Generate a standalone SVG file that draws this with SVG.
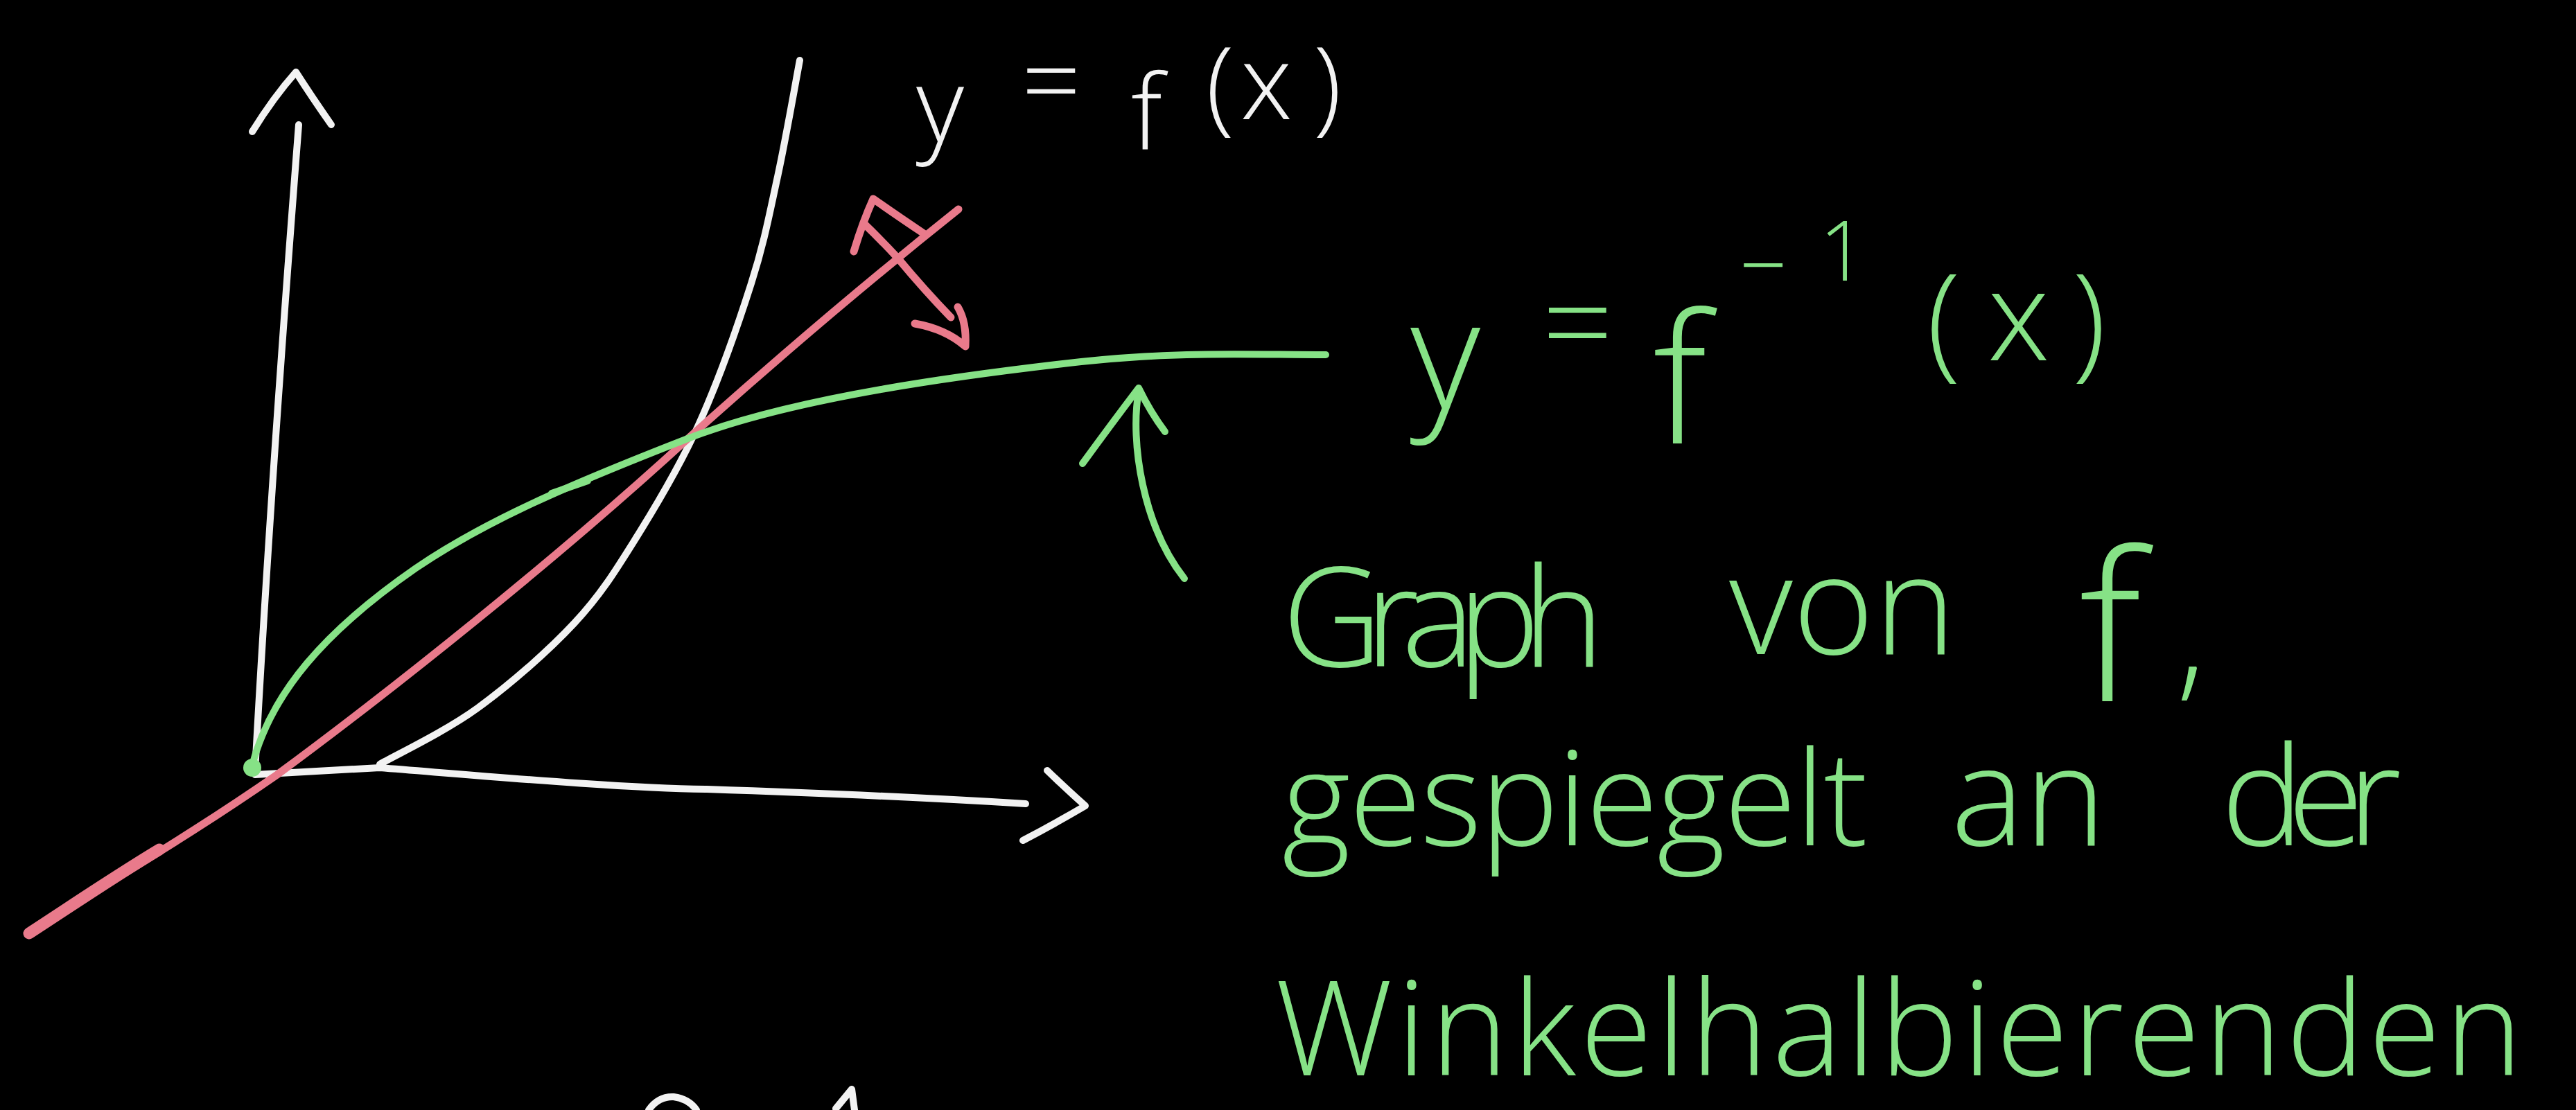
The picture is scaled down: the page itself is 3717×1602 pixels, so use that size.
<svg xmlns="http://www.w3.org/2000/svg" width="3717" height="1602" viewBox="0 0 3717 1602">
<style>
.ink{fill:none;stroke-linecap:round;stroke-linejoin:round}
.w{stroke:#f2f2f2;stroke-width:10}
.r{stroke:#e97a8b;stroke-width:11}
.g{stroke:#86e286;stroke-width:10}
.t{font-family:"Open Sans","Liberation Sans",sans-serif;font-weight:300}
.tw{fill:#f2f2f2}
.tg{fill:#86e286}
</style>
<rect width="3717" height="1602" fill="#000"/>
<g id="connectors">
  <g id="y-axis">
    <path class="ink w" d="M368,1112 C385,800 410,450 431,180"/>
    <path class="ink w" d="M364,190 Q395,140 427,104 Q450,140 478,180"/>
  </g>
  <g id="x-axis">
    <path class="ink w" d="M368,1118 L548,1108 C700,1120 900,1138 1020,1139 C1200,1145 1350,1152 1480,1160"/>
    <path class="ink w" d="M1511,1112 Q1540,1140 1566,1163 Q1520,1190 1476,1213"/>
  </g>
  <g id="graph-f">
    <path class="ink w" d="M548,1103 C571.5,1089.5 642.2,1056 689,1022 C735.8,988 790.8,940 829,899 C867.2,858 888.2,823.7 918,776 C947.8,728.3 980.3,674.2 1008,613 C1035.7,551.8 1065,468.7 1084,409 C1103,349.3 1110.3,308.7 1122,255 C1133.7,201.3 1148.7,115 1154,87"/>
  </g>
  <g id="bisector">
    <path class="ink r" d="M40,1348 C160,1270 260,1215 400,1118 C560,1000 800,810 996,630 C1130,510 1260,400 1383,302"/>
    <path class="ink r" style="stroke-width:17" d="M42,1347 C120,1296 170,1262 230,1226"/>
  </g>
  <g id="mirror-arrow">
    <path class="ink r" d="M1232,363 Q1245,320 1260,287 Q1300,315 1333,337"/>
    <path class="ink r" d="M1247,323 Q1272,347 1295,372 Q1335,420 1372,458"/>
    <path class="ink r" d="M1320,467 Q1365,475 1393,500 Q1395,465 1382,443"/>
  </g>
  <g id="graph-f-inverse">
    <path class="ink g" d="M363,1108 C390,1000 470,910 600,820 C700,752 820,700 995,632 C1150,572 1400,540 1560,522 C1700,507 1800,512 1913,512"/>
    <path class="ink g" d="M796,712 L848,694"/>
    <circle cx="364" cy="1108" r="13" fill="#86e286"/>
  </g>
  <g id="pointer-arrow">
    <path class="ink g" d="M1643,564 C1630,640 1650,760 1709,835"/>
    <path class="ink g" d="M1562,669 Q1605,610 1643,560 Q1660,595 1681,623"/>
  </g>
  <g id="bottom-fragments">
    <path class="ink w" d="M936,1602 Q950,1582 972,1583 Q994,1586 1005,1602"/>
    <path class="ink w" d="M1206,1600 L1229,1572 L1233,1602"/>
  </g>
</g>
<g id="label-f">
  <text class="t tw" font-size="150"><tspan x="1322" y="205">y</tspan><tspan x="1474" y="170">=</tspan><tspan x="1632" y="215">f</tspan><tspan x="1740" y="175">(</tspan><tspan x="1790" y="172">x</tspan><tspan x="1895" y="175">)</tspan></text>
</g>
<g id="label-f-inverse">
  <text class="t tg" font-size="180"><tspan x="2035" y="590" font-size="220">y</tspan><tspan x="2225" y="530">=</tspan><tspan x="2385" y="640" font-size="260">f</tspan><tspan x="2510" y="425" font-size="120">−</tspan><tspan x="2625" y="405" font-size="120">1</tspan><tspan x="2780" y="525">(</tspan><tspan x="2868" y="520">x</tspan><tspan x="2990" y="525">)</tspan></text>
</g>
<g id="description">
  <text class="t tg" font-size="200" x="1850" y="962" textLength="465" lengthAdjust="spacing">Graph</text>
  <text class="t tg" font-size="200" x="2495" y="944">von</text>
  <text class="t tg" font-size="300" x="3000" y="1012">f</text>
  <text class="t tg" font-size="200" x="3140" y="985">,</text>
  <text class="t tg" font-size="190" x="1850" y="1220" textLength="845" lengthAdjust="spacing">gespiegelt</text>
  <text class="t tg" font-size="200" x="2815" y="1220">an</text>
  <text class="t tg" font-size="200" x="3205" y="1220" textLength="260" lengthAdjust="spacing">der</text>
  <text class="t tg" font-size="190" x="1840" y="1552" textLength="1800" lengthAdjust="spacing">Winkelhalbierenden</text>
</g>
</svg>
